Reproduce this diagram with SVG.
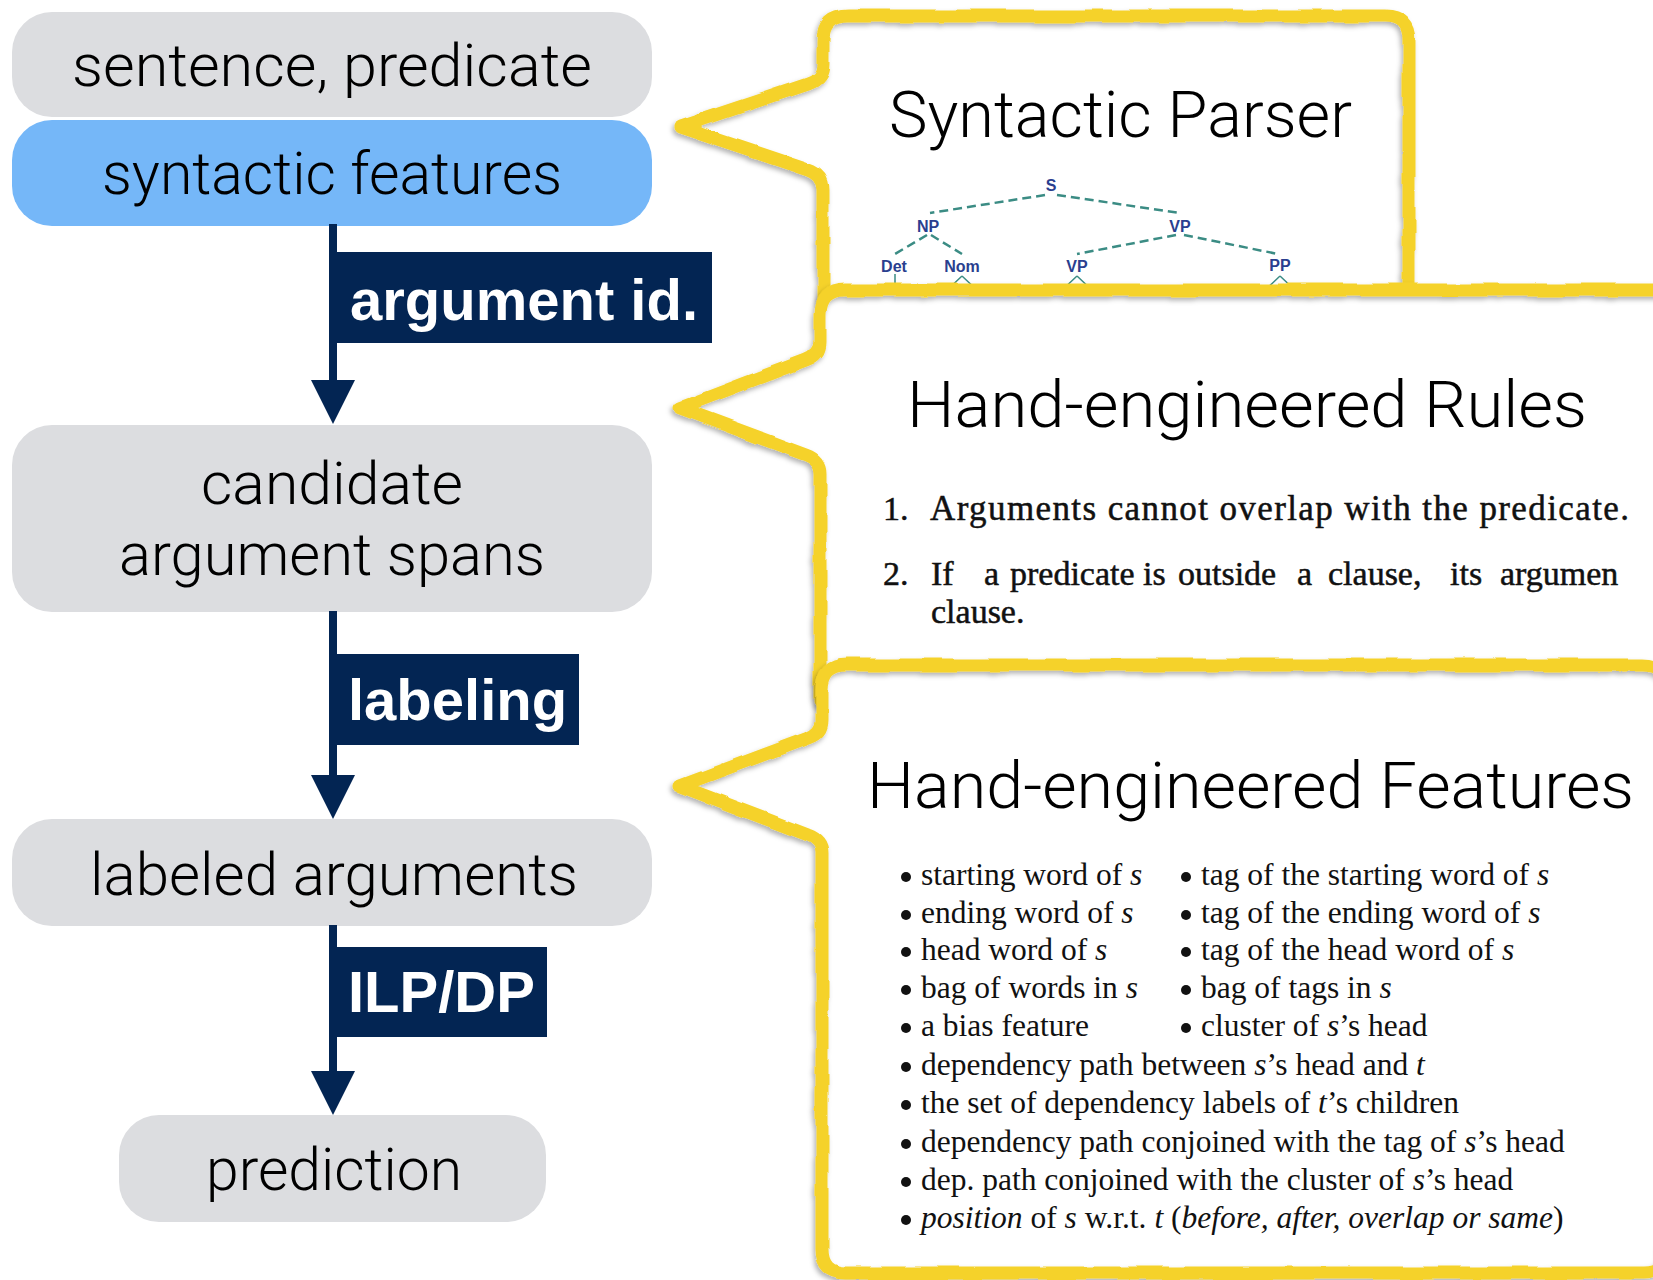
<svg xmlns="http://www.w3.org/2000/svg" width="1653" height="1280" viewBox="0 0 1653 1280">
<style>
.box{fill:#dcdde0}
.blue{fill:#75b7f8}
.navy{fill:#032553}
.lbl{font-family:Roboto,"Liberation Sans",Arial,sans-serif;font-weight:300;font-size:60px;fill:#000;text-anchor:middle}
.step{font-family:"Liberation Sans",Arial,sans-serif;font-size:58px;font-weight:bold;fill:#fff}
.title{font-family:Roboto,"Liberation Sans",Arial,sans-serif;font-weight:300;font-size:65px;fill:#000}
.bfill{fill:#fff}
.bline{fill:none;stroke:#f5d22b;stroke-width:13;stroke-linejoin:round;stroke-linecap:round}
.tl{font-family:"Liberation Sans",Arial,sans-serif;font-size:16px;font-weight:bold;fill:#2a3f8f;text-anchor:middle}
.te{stroke:#3b8c84;stroke-width:2.5;stroke-dasharray:9 5;fill:none}
.ts{stroke:#3b8c84;stroke-width:1.5;fill:none}
.rule{font-family:"Liberation Serif","Times New Roman",serif;font-size:34px;fill:#111;stroke:#111;stroke-width:0.5}
.feat{font-family:"Liberation Serif","Times New Roman",serif;font-size:31.5px;fill:#111}
.it{font-style:italic}
</style>
<defs>
<filter id="rough" x="-5%" y="-5%" width="110%" height="110%">
<feTurbulence type="fractalNoise" baseFrequency="0.03" numOctaves="2" seed="3" result="n"/>
<feDisplacementMap in="SourceGraphic" in2="n" scale="5" xChannelSelector="R" yChannelSelector="G"/>
<feDropShadow dx="-2" dy="3" stdDeviation="2.5" flood-color="#000" flood-opacity="0.3"/>
</filter>
</defs>

<!-- flow nodes -->
<g id="node-sentence">
<rect class="box" x="12" y="12" width="640" height="105" rx="40"/>
<text class="lbl" x="332" y="86" textLength="520" lengthAdjust="spacingAndGlyphs">sentence, predicate</text>
</g>
<g id="node-syntactic">
<rect class="blue" x="12" y="120" width="640" height="106" rx="40"/>
<text class="lbl" x="332" y="194" textLength="460" lengthAdjust="spacingAndGlyphs">syntactic features</text>
</g>
<g id="node-candidate">
<rect class="box" x="12" y="425" width="640" height="187" rx="40"/>
<text class="lbl" x="332" y="504" textLength="262" lengthAdjust="spacingAndGlyphs">candidate</text>
<text class="lbl" x="332" y="575" textLength="426" lengthAdjust="spacingAndGlyphs">argument spans</text>
</g>
<g id="node-labeled">
<rect class="box" x="12" y="819" width="640" height="107" rx="40"/>
<text class="lbl" x="334" y="895" textLength="488" lengthAdjust="spacingAndGlyphs">labeled arguments</text>
</g>
<g id="node-prediction">
<rect class="box" x="119" y="1115" width="427" height="107" rx="40"/>
<text class="lbl" x="334" y="1190" textLength="256" lengthAdjust="spacingAndGlyphs">prediction</text>
</g>

<!-- connectors -->
<g id="connectors">
<rect class="navy" x="329" y="224" width="8" height="160"/>
<polygon class="navy" points="311,380 355,380 333,424"/>
<rect class="navy" x="329" y="611" width="8" height="168"/>
<polygon class="navy" points="311,775 355,775 333,819"/>
<rect class="navy" x="329" y="925" width="8" height="150"/>
<polygon class="navy" points="311,1071 355,1071 333,1115"/>
<g id="label-argid">
<rect class="navy" x="329" y="252" width="383" height="91"/>
<text class="step" x="350" y="320">argument id.</text>
</g>
<g id="label-labeling">
<rect class="navy" x="329" y="654" width="250" height="91"/>
<text class="step" x="348" y="720">labeling</text>
</g>
<g id="label-ilp">
<rect class="navy" x="329" y="947" width="218" height="90"/>
<text class="step" x="348" y="1012">ILP/DP</text>
</g>
</g>

<!-- callout 1: syntactic parser -->
<g id="callout-parser">
<path class="bfill" d="M848,16 H1385 Q1409,16 1409,40 V300 H823 V190 Q823,175 808,170 L680,127 L808,84 Q823,79 823,64 V40 Q823,16 848,16 Z"/>
<path class="bline" filter="url(#rough)" d="M848,16 H1385 Q1409,16 1409,40 V300 H823 V190 Q823,175 808,170 L680,127 L808,84 Q823,79 823,64 V40 Q823,16 848,16 Z"/>
<text class="title" x="889" y="137" textLength="463" lengthAdjust="spacingAndGlyphs">Syntactic Parser</text>
<g id="tree">
<path class="te" d="M1045,195 L930,213 M1057,195 L1180,213 M927,235 L895,254 M931,235 L962,254 M1176,235 L1077,254 M1184,235 L1278,254"/>
<path class="ts" d="M895,274 V300 M962,276 L945,292 M962,276 L979,292 M1077,276 L1060,292 M1077,276 L1094,292 M1280,276 L1263,292 M1280,276 L1297,292"/>
<text class="tl" x="1051" y="191">S</text>
<text class="tl" x="928" y="232">NP</text>
<text class="tl" x="1180" y="232">VP</text>
<text class="tl" x="894" y="272">Det</text>
<text class="tl" x="962" y="272">Nom</text>
<text class="tl" x="1077" y="272">VP</text>
<text class="tl" x="1280" y="271">PP</text>
</g>
</g>

<!-- callout 2: rules -->
<g id="callout-rules">
<path class="bfill" d="M845,290 H1700 V700 H820 V473 Q820,460 806,455 L680,408 L806,360 Q820,355 820,342 V315 Q820,290 845,290 Z"/>
<path class="bline" filter="url(#rough)" d="M845,290 H1700 V700 H820 V473 Q820,460 806,455 L680,408 L806,360 Q820,355 820,342 V315 Q820,290 845,290 Z"/>
<text class="title" x="907" y="427" textLength="680" lengthAdjust="spacingAndGlyphs">Hand-engineered Rules</text>
<text class="rule" x="883" y="520">1.</text>
<text class="rule" x="930" y="520" style="font-size:35px" textLength="699" lengthAdjust="spacing">Arguments cannot overlap with the predicate.</text>
<text class="rule" y="585"><tspan x="883">2.</tspan><tspan x="931">If</tspan><tspan x="984">a</tspan><tspan x="1010">predicate</tspan><tspan x="1143">is</tspan><tspan x="1178">outside</tspan><tspan x="1297">a</tspan><tspan x="1328">clause,</tspan><tspan x="1450">its</tspan><tspan x="1500">argumen</tspan></text>
<text class="rule" x="931" y="623">clause.</text>
</g>

<!-- callout 3: features -->
<g id="callout-features">
<path class="bfill" d="M847,665 H1643 Q1668,665 1668,690 V1249 Q1668,1273 1644,1273 H846 Q822,1273 822,1249 V853 Q822,840 808,835 L680,786 L808,738 Q822,733 822,720 V690 Q822,665 847,665 Z"/>
<path class="bline" filter="url(#rough)" d="M847,665 H1643 Q1668,665 1668,690 V1249 Q1668,1273 1644,1273 H846 Q822,1273 822,1249 V853 Q822,840 808,835 L680,786 L808,738 Q822,733 822,720 V690 Q822,665 847,665 Z"/>
<text class="title" x="867" y="808" textLength="767" lengthAdjust="spacingAndGlyphs">Hand-engineered Features</text>
<g id="bullets" fill="#111">
<circle cx="906" cy="877" r="5"/><circle cx="906" cy="915" r="5"/><circle cx="906" cy="952" r="5"/><circle cx="906" cy="990" r="5"/><circle cx="906" cy="1028" r="5"/>
<circle cx="906" cy="1067" r="5"/><circle cx="906" cy="1105" r="5"/><circle cx="906" cy="1144" r="5"/><circle cx="906" cy="1182" r="5"/><circle cx="906" cy="1220" r="5"/>
<circle cx="1186" cy="877" r="5"/><circle cx="1186" cy="915" r="5"/><circle cx="1186" cy="952" r="5"/><circle cx="1186" cy="990" r="5"/><circle cx="1186" cy="1028" r="5"/>
</g>
<text class="feat" x="921" y="885">starting word of <tspan class="it">s</tspan></text>
<text class="feat" x="921" y="923">ending word of <tspan class="it">s</tspan></text>
<text class="feat" x="921" y="960">head word of <tspan class="it">s</tspan></text>
<text class="feat" x="921" y="998">bag of words in <tspan class="it">s</tspan></text>
<text class="feat" x="921" y="1036">a bias feature</text>
<text class="feat" x="921" y="1075">dependency path between <tspan class="it">s</tspan>’s head and <tspan class="it">t</tspan></text>
<text class="feat" x="921" y="1113">the set of dependency labels of <tspan class="it">t</tspan>’s children</text>
<text class="feat" x="921" y="1152">dependency path conjoined with the tag of <tspan class="it">s</tspan>’s head</text>
<text class="feat" x="921" y="1190">dep. path conjoined with the cluster of <tspan class="it">s</tspan>’s head</text>
<text class="feat" x="921" y="1228"><tspan class="it">position</tspan> of <tspan class="it">s</tspan> w.r.t. <tspan class="it">t</tspan> (<tspan class="it">before, after, overlap or same</tspan>)</text>
<text class="feat" x="1201" y="885">tag of the starting word of <tspan class="it">s</tspan></text>
<text class="feat" x="1201" y="923">tag of the ending word of <tspan class="it">s</tspan></text>
<text class="feat" x="1201" y="960">tag of the head word of <tspan class="it">s</tspan></text>
<text class="feat" x="1201" y="998">bag of tags in <tspan class="it">s</tspan></text>
<text class="feat" x="1201" y="1036">cluster of <tspan class="it">s</tspan>’s head</text>
</g>
</svg>
